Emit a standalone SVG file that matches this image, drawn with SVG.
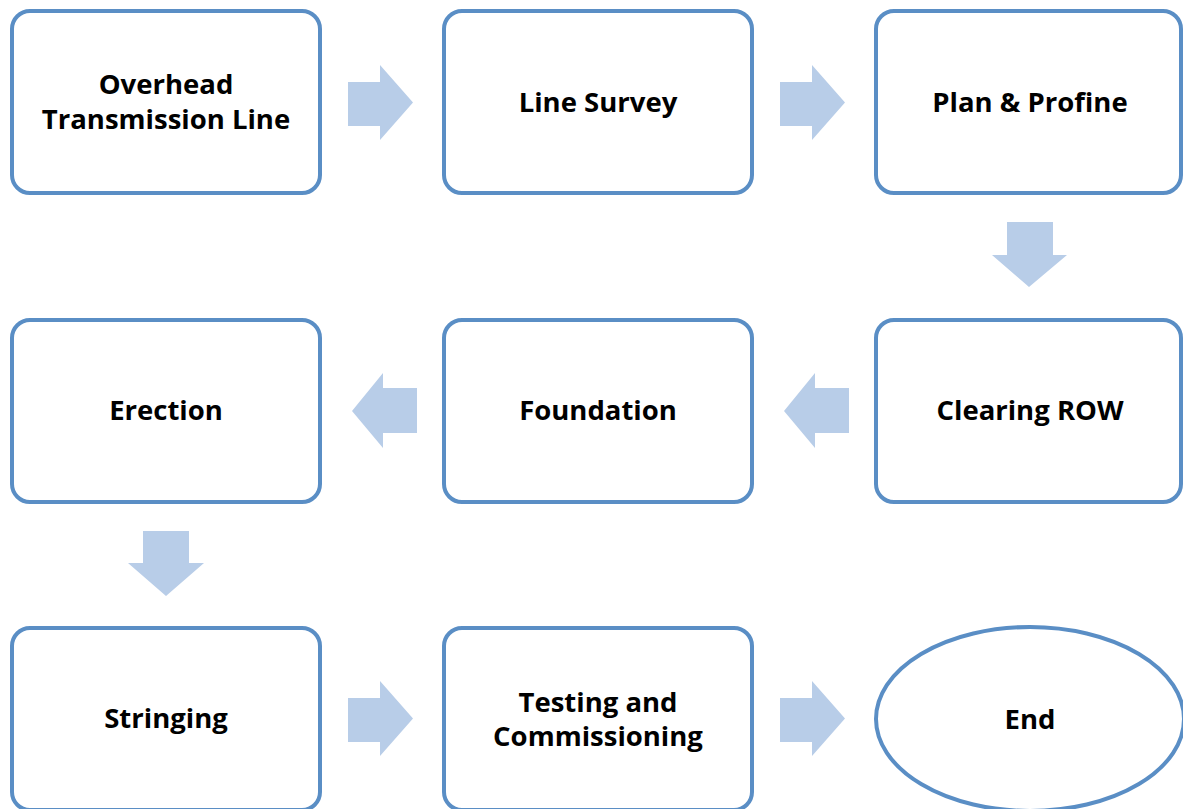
<svg xmlns="http://www.w3.org/2000/svg" width="1183" height="809" viewBox="0 0 1183 809">
  <style>
    .box { fill: #ffffff; stroke: #5a8ec5; stroke-width: 4; }
    .arrow { fill: #b8cde8; }
    .label { font-family: "Open Sans", "Noto Sans", sans-serif; font-weight: bold; font-size: 27.5px; fill: #000000; text-anchor: middle; }
  </style>
  <rect width="1183" height="809" fill="#ffffff"/>

  <!-- block arrows between steps -->
  <g id="connectors">
    <polygon class="arrow" points="348,82 380,82 380,65 413,102.5 380,140 380,126 348,126"/>
    <polygon class="arrow" points="780,82 812,82 812,65 845,102.5 812,140 812,126 780,126"/>
    <polygon class="arrow" points="1007,222 1053,222 1053,255 1067,255 1029,287 992,255 1007,255"/>
    <polygon class="arrow" points="849,388 815,388 815,373 784,411 815,448 815,433 849,433"/>
    <polygon class="arrow" points="417,388 383,388 383,373 352,411 383,448 383,433 417,433"/>
    <polygon class="arrow" points="143,531 189,531 189,563 204,563 166,596 128,563 143,563"/>
    <polygon class="arrow" points="348,698 380,698 380,681 413,718.5 380,756 380,742 348,742"/>
    <polygon class="arrow" points="780,698 812,698 812,681 845,718.5 812,756 812,742 780,742"/>
  </g>

  <g id="overhead-transmission-line">
    <rect class="box" x="12" y="11" width="308" height="182" rx="18"/>
    <text class="label" x="166" y="94">Overhead<tspan x="166" dy="34.5">Transmission Line</tspan></text>
  </g>
  <g id="line-survey">
    <rect class="box" x="444" y="11" width="308" height="182" rx="18"/>
    <text class="label" x="598" y="112">Line Survey</text>
  </g>
  <g id="plan-profine">
    <rect class="box" x="876" y="11" width="305" height="182" rx="18"/>
    <text class="label" x="1030" y="112">Plan &amp; Profine</text>
  </g>
  <g id="clearing-row">
    <rect class="box" x="876" y="320" width="305" height="182" rx="18"/>
    <text class="label" x="1030" y="420">Clearing ROW</text>
  </g>
  <g id="foundation">
    <rect class="box" x="444" y="320" width="308" height="182" rx="18"/>
    <text class="label" x="598" y="420">Foundation</text>
  </g>
  <g id="erection">
    <rect class="box" x="12" y="320" width="308" height="182" rx="18"/>
    <text class="label" x="166" y="420">Erection</text>
  </g>
  <g id="stringing">
    <rect class="box" x="12" y="628" width="308" height="182" rx="18"/>
    <text class="label" x="166" y="728">Stringing</text>
  </g>
  <g id="testing-commissioning">
    <rect class="box" x="444" y="628" width="308" height="182" rx="18"/>
    <text class="label" x="598" y="712">Testing and<tspan x="598" dy="34">Commissioning</tspan></text>
  </g>
  <g id="end">
    <ellipse class="box" cx="1030" cy="719" rx="154" ry="92"/>
    <text class="label" x="1030" y="729">End</text>
  </g>
</svg>
